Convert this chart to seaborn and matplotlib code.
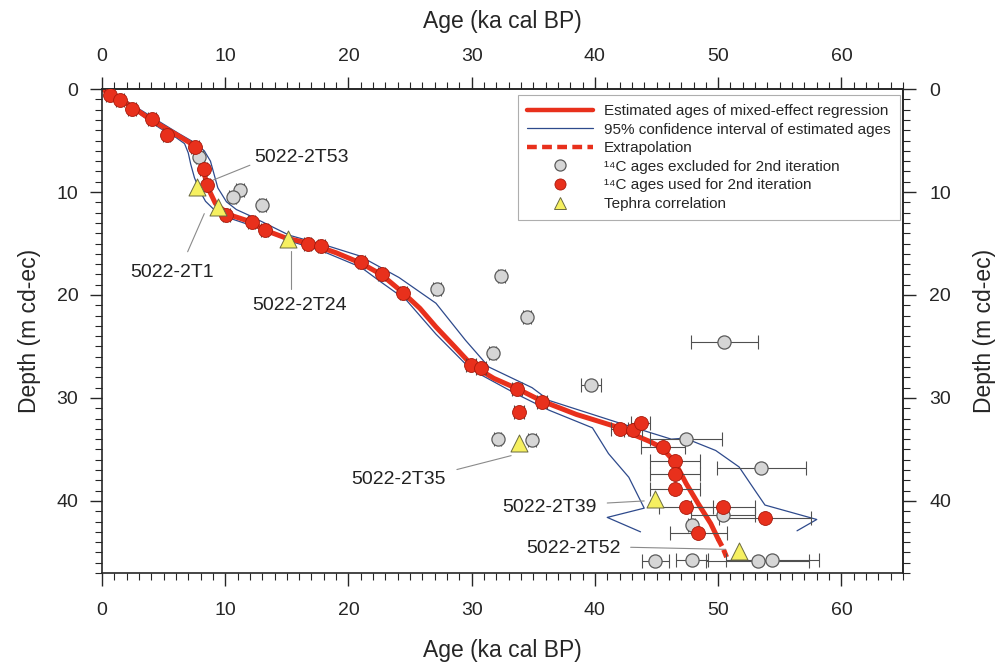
import matplotlib
matplotlib.use('Agg')
import matplotlib.pyplot as plt
from matplotlib.ticker import MultipleLocator
from matplotlib.lines import Line2D
import seaborn as sns

# --- data (age in ka cal BP, depth in m cd-ec) ---

# 14C ages used for the 2nd iteration
used_age = [0.65, 1.45, 2.45, 4.05, 5.25, 7.55, 8.25, 8.5, 10.1, 12.15, 13.2, 16.7, 17.8,
            21.05, 22.7, 24.45, 29.95, 30.75, 33.7, 35.7, 33.85, 42.0, 43.1, 43.7, 45.5,
            46.5, 46.5, 46.5, 47.4, 48.4, 50.4, 53.8]
used_depth = [0.6, 1.05, 1.95, 2.9, 4.45, 5.65, 7.8, 9.35, 12.25, 12.95, 13.7, 15.0, 15.2,
              16.8, 18.0, 19.8, 26.75, 27.1, 29.1, 30.4, 31.4, 33.0, 33.1, 32.4, 34.8,
              36.1, 37.35, 38.8, 40.6, 43.1, 40.6, 41.7]
used_err = [0.3, 0.3, 0.3, 0.3, 0.3, 0.3, 0.3, 0.3, 0.3, 0.3, 0.3, 0.3, 0.3,
            0.3, 0.3, 0.3, 0.4, 0.4, 0.4, 0.4, 0.4, 0.7, 0.7, 0.8, 1.8,
            2.0, 2.0, 2.0, 2.2, 2.3, 2.6, 3.7]

# 14C ages excluded for the 2nd iteration
excl_age = [7.9, 11.2, 10.6, 13.0, 27.2, 32.4, 34.5, 31.7, 39.7, 32.1, 34.9, 47.4,
            50.5, 53.5, 50.4, 47.85, 44.9, 47.85, 53.2, 54.4]
excl_depth = [6.6, 9.8, 10.5, 11.3, 19.4, 18.2, 22.1, 25.6, 28.7, 33.95, 34.1, 33.95,
              24.6, 36.8, 41.4, 42.3, 45.8, 45.7, 45.8, 45.7]
excl_err = [0.3, 0.3, 0.3, 0.3, 0.3, 0.3, 0.3, 0.3, 0.8, 0.3, 0.3, 2.9,
            2.7, 3.6, 2.6, 0.3, 1.1, 1.3, 4.2, 3.8]

# tephra correlations
tephra_age = [7.7, 9.4, 15.1, 33.85, 44.9, 51.7]
tephra_depth = [9.5, 11.5, 14.6, 34.4, 39.8, 44.9]

# mixed-effect regression and extrapolation
fit_age = [0, 1.2, 2.3, 3.5, 4.7, 6.0, 7.1, 7.6, 7.95, 8.2, 8.4, 8.6, 9.2, 10.3, 12.1,
           13.2, 15.0, 16.7, 19.0, 21.0, 22.65, 24.45, 25.8, 27.1, 28.6, 30.0, 31.8, 33.7,
           35.7, 38.5, 40.4, 42.0, 43.0, 44.4, 45.4, 46.5, 47.4, 48.4, 49.4, 50.0]
fit_depth = [0, 0.8, 1.6, 2.6, 3.5, 4.4, 5.2, 5.9, 6.8, 7.8, 8.7, 9.6, 11.1, 12.2, 12.9,
             13.7, 14.5, 14.95, 15.9, 16.9, 18.0, 19.8, 21.3, 23.1, 25.0, 26.8, 28.1, 29.1,
             30.3, 31.6, 32.3, 32.9, 33.5, 34.2, 34.8, 36.25, 38.3, 40.3, 42.2, 43.7]
extrap_age = [50.0, 50.4, 50.7]
extrap_depth = [43.7, 44.6, 45.5]

# 95 % confidence interval (younger and older side)
ci_young_age = [0, 1.2, 2.3, 3.5, 4.7, 6.0, 6.7, 7.0, 7.2, 7.5, 7.9, 8.4, 9.0, 9.55,
                10.5, 12.0, 15.2, 17.8, 21.0, 22.65, 24.7, 27.1, 29.5, 30.6, 33.6, 36.3,
                39.8, 41.1, 42.75, 44.0, 41.0, 43.7]
ci_young_depth = [0, 0.9, 1.8, 2.8, 3.8, 4.7, 5.3, 6.2, 7.3, 8.6, 9.8, 10.9, 11.6, 12.0,
                  12.6, 13.2, 14.75, 15.7, 17.3, 18.75, 20.5, 23.8, 26.7, 27.65, 29.6, 31.2,
                  32.9, 35.4, 37.7, 40.7, 41.6, 43.0]
ci_old_age = [0, 1.2, 2.3, 3.5, 4.7, 6.2, 7.5, 8.3, 8.8, 9.1, 9.4, 10.1, 10.9, 12.0,
              15.2, 18.5, 20.9, 24.1, 27.1, 29.5, 31.4, 34.9, 36.3, 41.9, 46.2, 47.3,
              49.8, 51.7, 53.0, 53.8, 58.0, 56.4]
ci_old_depth = [0, 0.6, 1.4, 2.3, 3.2, 4.3, 5.2, 6.0, 7.0, 8.3, 9.6, 10.95, 11.7, 12.3,
                14.2, 15.3, 16.2, 18.3, 20.8, 24.4, 27.0, 29.0, 30.25, 32.4, 34.0, 33.9,
                35.1, 36.7, 39.0, 40.4, 41.8, 42.9]

# tephra labels: text centre and leader line end points (age, depth)
label_text = ['5022-2T53', '5022-2T1', '5022-2T24', '5022-2T35', '5022-2T39', '5022-2T52']
label_pos = [(16.2, 6.6), (5.65, 17.8), (16.05, 21.0), (24.05, 37.9), (36.3, 40.6), (38.3, 44.65)]
leader_from = [(12.0, 7.4), (6.95, 15.8), (15.3, 19.4), (28.8, 36.95), (41.0, 40.2), (42.9, 44.5)]
leader_to = [(9.0, 8.85), (8.3, 12.1), (15.3, 15.7), (33.2, 35.6), (44.0, 40.0), (50.6, 44.7)]

# --- style ---
sns.set_style('ticks')
plt.rcParams['font.family'] = ['Liberation Sans', 'DejaVu Sans']

RED = '#e8301c'
RED_EDGE = '#a81a0c'
BLUE = '#2e4a8c'
GRAY = '#d6d6d6'
GRAY_EDGE = '#5a5a5a'
YELLOW = '#f6f060'
BAR = '#505050'

fig = plt.figure(figsize=(10, 6.66), dpi=100)
ax = fig.add_axes([0.102, 0.1396, 0.801, 0.7267])

# confidence interval and regression
sns.lineplot(x=ci_young_age, y=ci_young_depth, sort=False, estimator=None, ax=ax,
             color=BLUE, linewidth=0.9)
sns.lineplot(x=ci_old_age, y=ci_old_depth, sort=False, estimator=None, ax=ax,
             color=BLUE, linewidth=0.9)
sns.lineplot(x=fit_age, y=fit_depth, sort=False, estimator=None, ax=ax,
             color=RED, linewidth=3.6)
ax.plot(extrap_age, extrap_depth, color=RED, linewidth=3.6, linestyle=(0, (1.6, 0.8)))

# error bars
ax.errorbar(excl_age, excl_depth, xerr=excl_err, fmt='none', ecolor=BAR,
            elinewidth=0.8, capsize=5, capthick=0.8, zorder=3)
ax.errorbar(used_age, used_depth, xerr=used_err, fmt='none', ecolor=BAR,
            elinewidth=0.8, capsize=5, capthick=0.8, zorder=3)

# points
sns.scatterplot(x=excl_age, y=excl_depth, ax=ax, s=90, color=GRAY,
                edgecolor=GRAY_EDGE, linewidth=0.9, zorder=4)
sns.scatterplot(x=used_age, y=used_depth, ax=ax, s=100, color=RED,
                edgecolor=RED_EDGE, linewidth=0.6, zorder=5)
sns.scatterplot(x=tephra_age, y=tephra_depth, ax=ax, s=150, marker='^', color=YELLOW,
                edgecolor='#6a6a40', linewidth=0.7, zorder=6)

# tephra labels
for txt, pos, p0, p1 in zip(label_text, label_pos, leader_from, leader_to):
    ax.plot([p0[0], p1[0]], [p0[1], p1[1]], color='#8a8a8a', linewidth=0.8, zorder=2)
    ax.text(pos[0], pos[1], txt, fontsize=14, color='#222222', ha='center', va='center')

# axes
ax.set_xlim(0, 65)
ax.set_ylim(47, 0)
ax.set_xlabel('Age (ka cal BP)', fontsize=16.5, labelpad=14)
ax.set_ylabel('Depth (m cd-ec)', fontsize=16.5, labelpad=11)

top = ax.secondary_xaxis('top')
right = ax.secondary_yaxis('right')
top.set_xlabel('Age (ka cal BP)', fontsize=16.5, labelpad=15)
right.set_ylabel('Depth (m cd-ec)', fontsize=16.5, labelpad=16, rotation=90)

for a in (ax.xaxis, ax.yaxis, top.xaxis, right.yaxis):
    a.set_major_locator(MultipleLocator(10))
    a.set_minor_locator(MultipleLocator(1))

ax.tick_params(axis='x', which='major', direction='out', length=9, width=1, labelsize=14, pad=12)
ax.tick_params(axis='y', which='major', direction='out', length=9, width=1, labelsize=14, pad=8)
ax.tick_params(which='minor', direction='out', length=5, width=0.8)
top.tick_params(which='major', direction='out', length=9, width=1, labelsize=14, pad=8)
top.tick_params(which='minor', direction='out', length=5, width=0.8)
right.tick_params(which='major', direction='out', length=9, width=1, labelsize=14, pad=10)
right.tick_params(which='minor', direction='out', length=5, width=0.8)

for s in ax.spines.values():
    s.set_linewidth(1.2)
top.spines['top'].set_linewidth(1.2)
right.spines['right'].set_linewidth(1.2)

# legend
handles = [
    Line2D([], [], color=RED, linewidth=3.2),
    Line2D([], [], color=BLUE, linewidth=0.9),
    Line2D([], [], color=RED, linewidth=3.2, linestyle=(0, (2.2, 1.2))),
    Line2D([], [], linestyle='none', marker='o', markersize=8, markerfacecolor=GRAY,
           markeredgecolor=GRAY_EDGE, markeredgewidth=0.9),
    Line2D([], [], linestyle='none', marker='o', markersize=8, markerfacecolor=RED,
           markeredgecolor=RED_EDGE, markeredgewidth=0.6),
    Line2D([], [], linestyle='none', marker='^', markersize=9, markerfacecolor=YELLOW,
           markeredgecolor='#6a6a40', markeredgewidth=0.7),
]
labels = [
    'Estimated ages of mixed-effect regression',
    '95% confidence interval of estimated ages',
    'Extrapolation',
    '¹⁴C ages excluded for 2nd iteration',
    '¹⁴C ages used for 2nd iteration',
    'Tephra correlation',
]
leg = ax.legend(handles, labels, loc='upper right', bbox_to_anchor=(0.996, 0.988),
                borderaxespad=0, fontsize=11, handlelength=4.3, handletextpad=0.75,
                labelspacing=0.3, frameon=True, fancybox=False, borderpad=0.6)
leg.get_frame().set_edgecolor('#9a9a9a')
leg.get_frame().set_linewidth(0.8)

plt.savefig('out.png', dpi=100)
plt.close()
